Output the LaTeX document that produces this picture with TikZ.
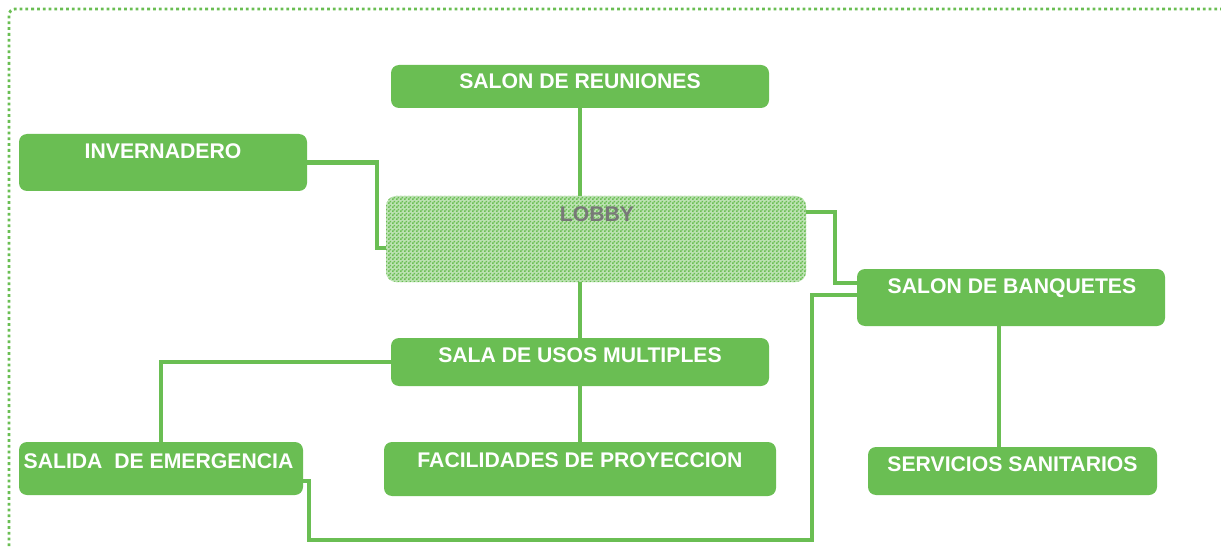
\documentclass[tikz,border=0pt]{standalone}
\usepackage{fontspec}
\setmainfont{Liberation Sans}
\usetikzlibrary{patterns,calc}
\definecolor{gr}{RGB}{106,190,83}
\definecolor{lobbytext}{RGB}{120,120,120}
\pgfdeclarepatternformonly{finecheck}{\pgfpointorigin}{\pgfqpoint{4pt}{4pt}}{\pgfqpoint{4pt}{4pt}}{%
  \pgfpathrectangle{\pgfpointorigin}{\pgfqpoint{2pt}{2pt}}%
  \pgfpathrectangle{\pgfqpoint{2pt}{2pt}}{\pgfqpoint{2pt}{2pt}}%
  \pgfusepath{fill}}
\begin{document}
\begin{tikzpicture}[x=1pt,y=-1pt,
  box/.style={draw=none,fill=gr,rounded corners=8pt,inner sep=0pt},
  lobbybox/.style={draw=none,fill=gr!45,postaction={pattern=finecheck,pattern color=gr},rounded corners=10pt,inner sep=0pt},
  txt/.style={anchor=base,text=white,font=\fontsize{21.2}{25}\selectfont\bfseries,inner sep=0pt},
  conn/.style={draw=gr,line width=4.5pt},
  frame/.style={draw=gr,line width=2.8pt,dash pattern=on 2.8pt off 3pt,rounded corners=6pt}]
\useasboundingbox (0,0) rectangle (1221,548);
\draw[frame] (9,552) -- (9,9) -- (1226,9);
% boxes
\node[box,minimum width=378pt,minimum height=43pt] (reun) at (580,86.5) {};
\node[box,minimum width=288pt,minimum height=57pt] (inv) at (163,162.5) {};
\node[lobbybox,minimum width=420pt,minimum height=86pt] (lobby) at (596,239) {};
\node[box,minimum width=308pt,minimum height=57pt] (banq) at (1011,297.5) {};
\node[box,minimum width=378pt,minimum height=48pt] (sala) at (580,362) {};
\node[box,minimum width=284pt,minimum height=53pt] (salida) at (161,468.5) {};
\node[box,minimum width=392pt,minimum height=54pt] (fac) at (580,469) {};
\node[box,minimum width=289pt,minimum height=48pt] (serv) at (1012.5,471) {};
% texts
\node[txt] (treun) at (580,89) {SALON DE REUNIONES};
\node[txt] (tinv) at (163,159) {INVERNADERO};
\node[txt,text=lobbytext] (tlobby) at (597,222) {LOBBY};
\node[txt] (tbanq) at (1012,293) {SALON DE BANQUETES};
\node[txt] (tsala) at (580,362) {SALA DE USOS MULTIPLES};
\node[txt] (tsalida) at (158.5,468) {SALIDA\ \ DE EMERGENCIA};
\node[txt] (tfac) at (580,467) {FACILIDADES DE PROYECCION};
\node[txt] (tserv) at (1012.5,471) {SERVICIOS SANITARIOS};
% connectors
\coordinate (c1) at (377,248);
\coordinate (c2) at (835,212);
\coordinate (c3) at (835,283);
\coordinate (c4) at (812,295);
\coordinate (c5) at (812,540);
\coordinate (c6) at (309,540);
\coordinate (c7) at (309,481);
\coordinate (c8) at (999,0);
\draw[conn] (reun.south) -- (reun.south |- lobby.north);
\draw[conn] (sala.north) -- (sala.north |- lobby.south);
\draw[conn] (sala.south) -- (fac.north);
\draw[conn] (inv.east) -| (c1) -- (lobby.west |- c1);
\draw[conn] (lobby.east |- c2) -- (c2) -- (c3) -- (banq.west |- c3);
\draw[conn] (banq.west |- c4) -- (c4) -- (c5) -- (c6) -- (c7) -- (salida.east |- c7);
\draw[conn] (sala.west) -| (salida.north);
\draw[conn] (banq.south -| c8) -- (serv.north -| c8);
\end{tikzpicture}
\end{document}
